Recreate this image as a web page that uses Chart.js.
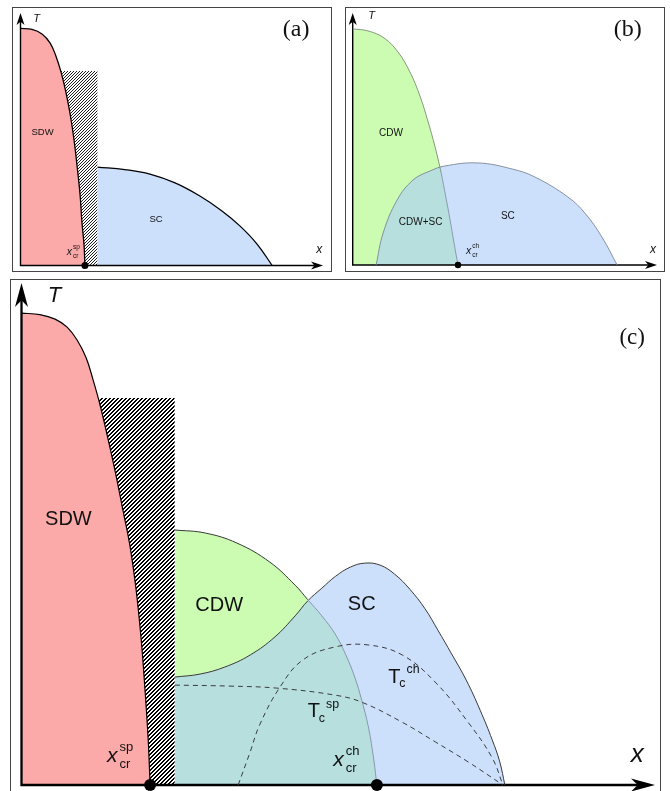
<!DOCTYPE html>
<html>
<head>
<meta charset="utf-8">
<title>Phase diagrams</title>
<script src="https://cdn.jsdelivr.net/npm/chart.js@4.4.1/dist/chart.umd.min.js"></script>
<style>
  body { margin: 0; background: #fff; width: 670px; height: 791px; overflow: hidden; position: relative; }
  .frame { position: absolute; border: 1px solid #444; box-sizing: border-box; }
  canvas { position: absolute; }
</style>
</head>
<body>
<div class="frame" style="left:12px;top:7px;width:320px;height:265px"></div>
<div class="frame" style="left:345px;top:7px;width:320px;height:265px"></div>
<div class="frame" style="left:10px;top:279px;width:651px;height:530px"></div>
<canvas id="chartA" width="335" height="275" style="left:0;top:0"></canvas>
<canvas id="chartB" width="335" height="275" style="left:335px;top:0"></canvas>
<canvas id="chartC" width="670" height="516" style="left:0;top:275px"></canvas>
<script>
// doping x (0..100) vs temperature T (0..100), schematic units

// (a) SDW + SC separated by a coexistence strip
const sdwA = [[0, 93.9], [3.8, 93.5], [7.1, 91.7], [9.8, 88.1], [11.7, 83.0], [13.4, 76.6], [15.0, 68.7], [16.4, 60.0], [17.7, 49.7], [18.7, 39.4], [19.7, 27.9], [20.3, 17.2], [21.0, 8.1], [21.3, 0]];
const stripA = [[13.4, 77.0], [25.5, 77.0]];
const scA = [[25.5, 39.0], [34.5, 38.0], [42.8, 36.2], [51.1, 32.7], [59.3, 27.5], [66.6, 21.6], [72.6, 15.6], [78.2, 8.5], [83.2, 0]];

// (b) CDW overlapping SC
const cdwB = [[0, 93.7], [5.0, 92.9], [10.3, 90.1], [14.9, 84.5], [18.8, 76.6], [22.1, 67.1], [24.7, 57.1], [27.0, 47.2], [29.0, 36.9], [30.6, 27.0], [32.0, 17.9], [33.3, 8.7], [34.6, 0]];
const scB = [[7.7, 0], [10.0, 12.7], [14.6, 25.8], [19.8, 33.7], [25.4, 37.3], [30.3, 39.3], [41.2, 40.5], [52.4, 38.1], [59.9, 34.9], [70.7, 27.0], [76.3, 20.6], [81.9, 11.1], [86.9, 0]];

// (c) combined diagram
const sdwC = [[0, 94.0], [2.9, 93.7], [5.3, 92.8], [7.2, 91.2], [8.8, 88.6], [10.2, 85.1], [11.3, 80.7], [12.4, 75.7], [13.7, 68.7], [14.9, 61.8], [16.0, 54.8], [17.1, 47.8], [18.1, 38.8], [18.9, 28.9], [19.5, 18.9], [20.0, 9.0], [20.3, 0]];
const stripC = [[12.1, 77.1], [24.2, 77.1]];
const cdwC = [[24.2, 50.8], [29.0, 50.2], [34.0, 48.2], [39.2, 44.4], [43.2, 39.8], [45.2, 36.9], [47.4, 33.7], [49.5, 30.1], [51.2, 25.9], [52.6, 21.5], [53.7, 16.9], [54.7, 11.9], [55.5, 6.0], [56.1, 0]];
const scC = [[24.2, 21.5], [28.2, 22.1], [32.1, 23.5], [36.1, 25.9], [40.0, 29.5], [43.2, 33.7], [45.2, 36.7], [47.4, 39.2], [49.6, 41.6], [51.9, 43.4], [54.2, 44.2], [56.6, 43.8], [58.9, 42.0], [61.3, 39.0], [63.7, 35.1], [65.7, 30.9], [67.9, 26.1], [70.2, 20.9], [72.4, 14.9], [74.3, 9.0], [75.5, 4.6], [76.3, 0]];
const tcSpC = [[24.2, 19.9], [32.9, 19.7], [40.3, 19.3], [49.5, 17.9], [53.7, 16.5], [60.1, 12.5], [65.3, 8.6], [70.5, 4.6], [76.0, 0]];
const tcChC = [[34.2, 0], [36.1, 6.6], [37.6, 12.0], [40.8, 19.5], [44.4, 24.9], [49.5, 27.5], [54.7, 27.9], [60.1, 25.9], [65.3, 20.5], [70.5, 12.5], [74.3, 5.4], [76.0, 0]];

const PINK = '#fca9a9';
const GREEN = '#ccfcb2';
const BLUE = '#cce0fc';
const TEAL = '#b6dfde';
const NONE = 'rgba(0,0,0,0)';
const SANS = '"Liberation Sans", Arial, sans-serif';
const SERIF = '"Liberation Serif", "Times New Roman", serif';

const labelsA = [
  { text: 'SDW', x: 7.3, y: 52.7, size: 9.5 },
  { text: 'SC', x: 44.8, y: 18.2, size: 9.5 },
  { text: 'T', x: 5.3, y: 97.6, size: 11, style: 'italic' },
  { text: 'x', x: 98.8, y: 6.1, size: 12, style: 'italic' },
  { text: '(a)', x: 91.1, y: 93.3, size: 24, family: SERIF },
  { text: 'x', sub: 'cr', sup: 'sp', stacked: true, x: 15.3, y: 4.2, size: 10.5, style: 'italic' }
];
const labelsB = [
  { text: 'CDW', x: 12.6, y: 52.2, size: 10 },
  { text: 'CDW+SC', x: 22.3, y: 17.1, size: 10 },
  { text: 'SC', x: 51.0, y: 19.2, size: 10 },
  { text: 'T', x: 6.2, y: 98.8, size: 11, style: 'italic' },
  { text: 'x', x: 98.7, y: 6.0, size: 12, style: 'italic' },
  { text: '(b)', x: 90.4, y: 93.3, size: 24, family: SERIF },
  { text: 'x', sub: 'cr', sup: 'ch', stacked: true, x: 37.2, y: 4.4, size: 10.5, style: 'italic' }
];
const labelsC = [
  { text: 'SDW', x: 7.4, y: 52.9, size: 20 },
  { text: 'CDW', x: 31.2, y: 35.8, size: 20 },
  { text: 'SC', x: 53.7, y: 35.9, size: 20 },
  { text: 'T', x: 5.2, y: 97.5, size: 22, style: 'italic' },
  { text: 'x', x: 97.2, y: 6.0, size: 26, style: 'italic' },
  { text: '(c)', x: 96.4, y: 89.1, size: 23, family: SERIF },
  { text: 'T', sub: 'c', sup: 'sp', x: 45.2, y: 13.5, size: 20 },
  { text: 'T', sub: 'c', sup: 'ch', x: 57.9, y: 20.3, size: 20 },
  { text: 'x', sub: 'cr', sup: 'sp', stacked: true, x: 13.5, y: 4.6, size: 21, style: 'italic' },
  { text: 'x', sub: 'cr', sup: 'ch', stacked: true, x: 49.2, y: 3.8, size: 21, style: 'italic' }
];

const pts = arr => arr.map(([x, y]) => ({ x, y }));
const font = (size, style, family) => (style ? style + ' ' : '') + size + 'px ' + (family || SANS);

// crisp "/" hatching: `ink` dark pixels out of every `period` along each row
function hatch(period, ink, color) {
  const c = document.createElement('canvas');
  c.width = c.height = period;
  const g = c.getContext('2d');
  g.fillStyle = '#fff';
  g.fillRect(0, 0, period, period);
  g.fillStyle = color;
  for (let yy = 0; yy < period; yy++) {
    for (let xx = 0; xx < period; xx++) {
      if ((xx + yy) % period < ink) g.fillRect(xx, yy, 1, 1);
    }
  }
  return g.createPattern(c, 'repeat');
}

// filled region under a smooth curve, optionally with its outline
function region(data, color, extra) {
  return Object.assign({
    data: pts(data), fill: 'origin', backgroundColor: color,
    borderWidth: 0, borderColor: NONE, pointRadius: 0,
    tension: 0.4
  }, extra);
}

function dots(xs, r) {
  return {
    data: xs.map(x => ({ x, y: 0 })), showLine: false, fill: false,
    pointRadius: r, pointBackgroundColor: '#000', pointBorderWidth: 0,
    clip: false, order: 0
  };
}

function drawScripted(ctx, lab, px, py) {
  const s = lab.size, small = Math.round(s * 0.62 * 10) / 10;
  ctx.textAlign = 'left';
  ctx.textBaseline = 'alphabetic';
  ctx.font = font(s, lab.style);
  const w = ctx.measureText(lab.text).width;
  ctx.fillText(lab.text, px, py);
  ctx.font = font(small);
  if (lab.stacked) {
    const sx = px + w + s * 0.1;
    ctx.fillText(lab.sup, sx, py - s * 0.52);
    ctx.fillText(lab.sub, sx, py + s * 0.3);
  } else {
    const sx = px + w - s * 0.06;
    ctx.fillText(lab.sub, sx, py + s * 0.22);
    const w2 = ctx.measureText(lab.sub).width;
    ctx.fillText(lab.sup, sx + w2 + 1, py - s * 0.48);
  }
}

function labelPlugin(items) {
  return {
    id: 'phaseLabels',
    afterDatasetsDraw(chart) {
      const { ctx, scales: { x, y } } = chart;
      ctx.save();
      ctx.fillStyle = '#111';
      for (const lab of items) {
        const px = x.getPixelForValue(lab.x), py = y.getPixelForValue(lab.y);
        if (lab.sub) {
          drawScripted(ctx, lab, px, py);
        } else {
          ctx.font = font(lab.size, lab.style, lab.family);
          ctx.textAlign = 'center';
          ctx.textBaseline = 'middle';
          ctx.fillText(lab.text, px, py);
        }
      }
      ctx.restore();
    }
  };
}

// x and T axes with stealth arrow heads, drawn over the fills
function axesPlugin(lw, len, half) {
  return {
    id: 'phaseAxes',
    beforeDatasetsDraw(chart) {
      const { ctx, chartArea: a } = chart;
      ctx.save();
      ctx.strokeStyle = '#000';
      ctx.fillStyle = '#000';
      ctx.lineWidth = lw;
      ctx.beginPath();
      ctx.moveTo(a.left, a.bottom);
      ctx.lineTo(a.left, a.top + len * 0.7);
      ctx.moveTo(a.left - lw / 2, a.bottom);
      ctx.lineTo(a.right - len * 0.7, a.bottom);
      ctx.stroke();
      ctx.beginPath();
      ctx.moveTo(a.left, a.top);
      ctx.lineTo(a.left + half, a.top + len);
      ctx.lineTo(a.left, a.top + len * 0.72);
      ctx.lineTo(a.left - half, a.top + len);
      ctx.closePath();
      ctx.moveTo(a.right, a.bottom);
      ctx.lineTo(a.right - len, a.bottom - half);
      ctx.lineTo(a.right - len * 0.72, a.bottom);
      ctx.lineTo(a.right - len, a.bottom + half);
      ctx.closePath();
      ctx.fill();
      ctx.restore();
    }
  };
}

function options(pad) {
  return {
    responsive: false,
    animation: false,
    devicePixelRatio: 1,
    events: [],
    layout: { padding: pad },
    scales: {
      x: { type: 'linear', min: 0, max: 100, display: false },
      y: { type: 'linear', min: 0, max: 100, display: false }
    },
    plugins: {
      legend: { display: false },
      tooltip: { enabled: false },
      filler: { drawTime: 'beforeDatasetsDraw' }
    }
  };
}

function makeChart(id, datasets, pad, labels, axes) {
  return new Chart(document.getElementById(id), {
    type: 'line',
    data: { datasets },
    options: options(pad),
    plugins: [axesPlugin(...axes), labelPlugin(labels)]
  });
}

// panel (a)
makeChart('chartA', [
  region(stripA, hatch(3, 1, '#1e1e1e'), { tension: 0, order: 10 }),
  region(sdwA, PINK, { borderWidth: 1.3, borderColor: '#000', order: 9 }),
  region(scA, BLUE, { borderWidth: 1.3, borderColor: '#000', order: 8 }),
  dots([sdwA[sdwA.length - 1][0]], 3.5)
], { left: 20.5, right: 12, top: 13, bottom: 9.5 }, labelsA, [1.4, 12, 4]);

// panel (b): the green part is the CDW area lying above the SC dome.
// The SC copy used as fill target is carried down below the axis at x = 0
// so the CDW-only area reaches the T axis.
const scTargetB = [[0, -40]].concat(scB);
makeChart('chartB', [
  region(scB, BLUE, { borderWidth: 0.9, borderColor: '#7d8896', order: 9 }),
  region(cdwB, TEAL, { order: 8 }),
  region(cdwB, GREEN, {
    fill: { target: 3, above: GREEN, below: NONE },
    borderWidth: 0.9,
    segment: { borderColor: c => c.p0DataIndex >= 8 ? '#8394a8' : '#7f8f75' },
    order: 7
  }),
  region(scTargetB, NONE, { fill: false, order: 11 }),
  dots([cdwB[cdwB.length - 1][0]], 3.2)
], { left: 17.7, right: 13, top: 13, bottom: 10 }, labelsB, [1.4, 12, 4]);

// panel (c)
makeChart('chartC', [
  region(stripC, hatch(4, 2, '#000'), { tension: 0, order: 10 }),
  region(sdwC, PINK, { borderWidth: 1.2, borderColor: '#000', order: 9 }),
  region(scC, BLUE, { borderWidth: 1, borderColor: '#3a3a3a', order: 8 }),
  region(cdwC, TEAL, { order: 7 }),
  region(cdwC, GREEN, {
    fill: { target: 2, above: GREEN, below: NONE },
    borderWidth: 1,
    segment: { borderColor: c => c.p0DataIndex >= 5 ? '#8797ad' : '#3a3a3a' },
    order: 6
  }),
  region(tcSpC, NONE, { fill: false, borderWidth: 1, borderColor: '#3c3c3c', borderDash: [5, 4], order: 5 }),
  region(tcChC, NONE, { fill: false, borderWidth: 1, borderColor: '#3c3c3c', borderDash: [5, 4], order: 4 }),
  dots([sdwC[sdwC.length - 1][0], cdwC[cdwC.length - 1][0]], 6)
], { left: 21.5, right: 15, top: 8, bottom: 6 }, labelsC, [2.3, 24, 6.5]);
</script>
</body>
</html>
